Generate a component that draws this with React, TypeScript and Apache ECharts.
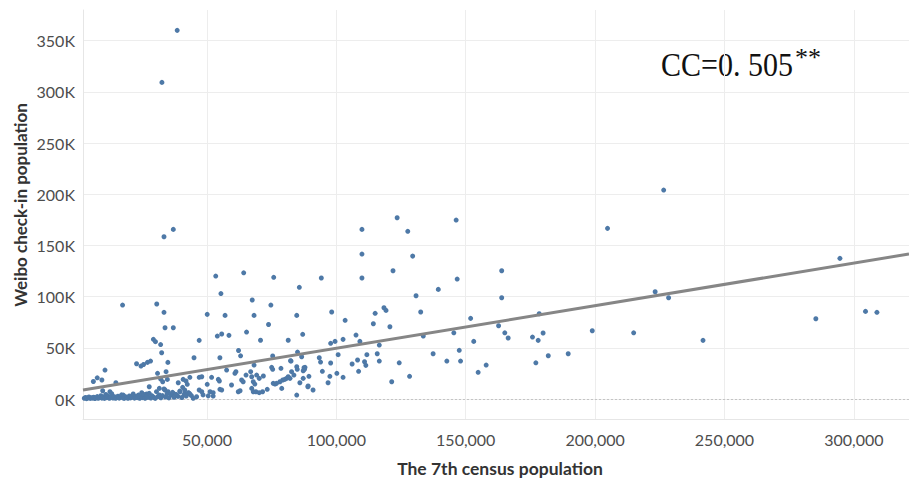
import { useEffect, useRef } from "react";
import * as echarts from "echarts";

// Values in thousands: [7th census population, Weibo check-in population]
const UNIT = 1000;

const scatteredPoints: [number, number][] = [
  [38.5, 360.1], [32.6, 309.3], [33.4, 158.5], [37.0, 165.7], [17.4, 91.8], [30.6, 92.8], [33.4, 84.7],
  [33.8, 69.6], [37.0, 69.6], [29.3, 58.3], [30.1, 56.0], [32.1, 53.2], [32.5, 45.2], [34.9, 35.8],
  [22.8, 34.5], [24.5, 32.2], [25.5, 33.7], [27.0, 35.8], [28.2, 37.1], [10.6, 28.3], [6.1, 17.1],
  [7.6, 20.7], [9.4, 18.6], [14.8, 15.9], [30.9, 25.1], [32.1, 19.5], [32.9, 16.9], [34.2, 26.7],
  [34.7, 19.2], [45.0, 40.3], [47.0, 57.3], [50.1, 82.7], [53.4, 120.1], [55.4, 103.0], [57.0, 81.7],
  [54.0, 61.5], [55.7, 63.5], [58.5, 62.2], [55.0, 40.3], [64.2, 123.3], [67.5, 96.7], [68.2, 81.7],
  [65.3, 65.4], [70.7, 57.4], [73.8, 72.8], [74.7, 91.8], [75.8, 118.9], [85.7, 109.1], [84.7, 81.7],
  [87.0, 63.2], [81.4, 57.4], [62.2, 47.4], [63.0, 42.2], [75.4, 42.0], [85.0, 45.9], [86.6, 41.3],
  [82.5, 37.1], [47.0, 21.2], [48.0, 21.8], [51.8, 21.2], [54.4, 19.2], [54.8, 17.6], [50.1, 14.4],
  [55.0, 9.5], [38.9, 15.9], [40.8, 19.2], [41.9, 17.6], [42.4, 14.4], [43.4, 21.2], [40.6, 11.4],
  [41.4, 8.8], [47.0, 8.8], [48.0, 7.1], [51.2, 7.1], [52.4, 6.2], [42.8, 6.2], [43.4, 4.9],
  [44.7, 0.7], [27.7, 12.0], [9.7, 8.1], [57.6, 28.3], [61.2, 26.7], [60.8, 25.1], [68.2, 33.2],
  [75.0, 31.0], [75.4, 29.0], [78.6, 30.0], [82.3, 37.4], [84.7, 31.5], [84.9, 29.0], [87.9, 31.0],
  [65.1, 23.4], [66.9, 26.7], [67.3, 21.8], [69.2, 23.4], [70.2, 20.2], [71.8, 22.5], [82.7, 26.7],
  [83.6, 23.4], [87.2, 20.2], [63.4, 18.6], [64.0, 16.9], [67.9, 16.9], [68.5, 14.6], [75.6, 15.3],
  [76.3, 14.6], [76.9, 15.3], [78.2, 16.9], [79.3, 18.6], [80.1, 19.2], [80.8, 20.2], [81.4, 21.8],
  [82.1, 20.2], [85.9, 15.9], [89.1, 12.7], [59.5, 13.7], [55.7, 8.8], [67.3, 10.4], [67.9, 7.1],
  [68.9, 7.1], [70.2, 6.2], [71.5, 7.1], [62.1, 7.1], [62.8, 8.1], [73.3, 9.5], [78.9, 10.4],
  [84.7, 3.9], [52.4, 2.9],
];

const midRightPoints: [number, number][] = [
  [123.5, 177.1], [109.9, 165.7], [127.6, 163.8], [146.3, 174.8], [109.9, 141.6], [129.5, 139.6],
  [121.9, 125.3], [109.9, 118.2], [94.2, 118.2], [146.7, 117.2], [163.9, 125.3], [139.4, 107.1],
  [130.8, 100.9], [163.9, 98.9], [98.2, 85.0], [118.4, 89.2], [119.2, 86.6], [115.0, 83.7],
  [132.6, 85.0], [103.4, 76.9], [114.3, 73.5], [120.7, 70.6], [151.9, 78.8], [162.7, 71.6],
  [178.4, 83.3], [107.6, 62.5], [109.1, 56.3], [102.6, 58.3], [97.8, 54.4], [99.5, 56.3],
  [116.6, 52.7], [133.6, 61.5], [145.4, 64.7], [165.1, 64.7], [166.4, 59.6], [153.1, 56.3],
  [175.8, 60.5], [178.0, 57.3], [179.9, 64.5], [198.9, 66.7], [93.4, 40.3], [93.9, 36.1],
  [97.8, 35.2], [100.7, 43.3], [111.8, 43.3], [115.8, 44.2], [108.2, 38.1], [106.1, 34.2],
  [110.9, 36.4], [111.4, 32.9], [116.6, 37.1], [124.3, 35.4], [137.4, 44.2], [142.7, 37.1],
  [147.5, 47.6], [148.0, 37.1], [157.9, 33.2], [154.8, 26.1], [177.1, 35.4], [181.9, 42.3],
  [189.6, 44.2], [87.5, 30.6], [87.7, 29.0], [87.2, 27.6], [89.4, 22.2], [94.6, 27.1], [97.5, 22.2],
  [100.2, 25.1], [102.6, 21.2], [108.6, 27.1], [96.8, 15.9], [89.0, 12.0], [91.0, 8.8],
  [121.4, 16.9], [128.3, 22.2], [226.5, 204.1], [204.8, 166.7], [294.6, 137.4], [223.2, 104.8],
  [228.4, 98.9], [214.9, 64.7], [241.7, 57.3], [285.3, 78.4], [304.5, 85.6], [308.9, 84.7],
];

const lowBandPoints: [number, number][] = [
  [12.5, 7.1], [13.3, 3.9], [17.7, 3.9], [23.5, 3.9], [24.8, 6.2], [26.7, 4.9], [28.6, 2.9],
  [31.6, 10.4], [33.8, 8.8], [35.0, 7.1], [37.0, 5.6], [38.3, 3.9], [39.6, 7.1], [41.5, 5.6],
  [2.6, 0.8], [3.1, 1.5], [3.5, 0.4], [4.0, 1.1], [4.4, 2.0], [4.9, 0.6], [5.3, 1.3], [5.8, 0.9],
  [6.2, 1.8], [6.7, 0.5], [7.1, 1.2], [7.6, 2.4], [8.0, 0.7], [8.5, 1.5], [9.0, 3.2], [9.4, 0.9],
  [9.9, 1.9], [10.4, 0.6], [10.9, 4.5], [11.3, 1.3], [11.8, 2.6], [12.3, 0.8], [12.8, 1.7],
  [13.2, 5.2], [13.7, 1.0], [14.2, 2.2], [14.7, 0.7], [15.1, 1.5], [15.6, 2.8], [16.1, 0.9],
  [16.6, 1.9], [17.0, 4.1], [17.5, 1.2], [18.0, 0.6], [18.5, 2.3], [19.0, 1.4], [19.5, 0.8],
  [20.0, 3.0], [20.5, 1.1], [21.0, 1.9], [21.5, 5.0], [22.0, 0.9], [22.5, 2.5], [23.0, 1.3],
  [23.5, 3.6], [24.0, 0.7], [24.5, 2.1], [25.0, 1.4], [25.6, 4.4], [26.1, 0.8], [26.6, 2.7],
  [27.2, 1.6], [27.7, 5.6], [28.3, 1.0], [28.8, 3.1], [29.4, 1.8], [30.0, 0.6], [30.5, 7.2],
  [31.0, 2.3], [31.6, 4.0], [32.2, 1.2], [32.8, 3.4], [33.4, 9.8], [34.0, 2.0], [34.6, 5.3],
  [35.3, 1.1], [36.0, 3.8], [36.7, 6.5], [37.3, 1.7], [38.0, 4.6], [38.8, 2.6], [39.5, 7.8],
  [40.3, 1.5], [41.2, 4.2], [42.0, 2.9], [43.0, 5.8], [44.0, 3.3], [46.0, 2.2], [48.5, 4.0],
  [50.5, 3.1],
];

// Linear trend (thousands)
const trendIntercept = 8.0;
const trendSlope = 0.416;

const xRange = [2.1, 321.3];
const yRange = [-19.5, 380];

const xAxisTitle = "The 7th census population";
const yAxisTitle = "Weibo check-in population";
const ccLabel = "CC=0. 505";
const ccSuperscript = "**";

export default function App() {
  const ref = useRef<HTMLDivElement>(null);

  useEffect(() => {
    if (!ref.current) return;
    const chart = echarts.init(ref.current, null, { renderer: "svg" });
    const allPoints = [...lowBandPoints, ...scatteredPoints, ...midRightPoints].map(
      ([x, y]) => [x * UNIT, y * UNIT]
    );
    const xMin = xRange[0] * UNIT;
    const xMax = xRange[1] * UNIT;
    const trendData = [xRange[0], xRange[1]].map((x) => [
      x * UNIT,
      (trendIntercept + trendSlope * x) * UNIT,
    ]);
    const gridColor = "#ededed";
    const labelFont = "Lato, 'Open Sans', sans-serif";
    const serifFont = "'Liberation Serif', 'DejaVu Serif', serif";

    chart.setOption({
      animation: false,
      backgroundColor: "#ffffff",
      grid: { left: 83, right: 0, top: 10, bottom: 59, containLabel: false },
      xAxis: {
        type: "value",
        min: xMin,
        max: xMax,
        splitNumber: 6,
        axisLine: { show: true, onZero: false, lineStyle: { color: "#e6e6e6", width: 1 } },
        axisTick: { show: false },
        axisLabel: {
          formatter: (v: number) => v.toLocaleString("en-US"),
          showMinLabel: false,
          showMaxLabel: false,
          color: "#4d4d4d",
          fontSize: 16,
          fontFamily: labelFont,
          margin: 12,
        },
        splitLine: {
          show: true,
          showMinLine: false,
          showMaxLine: false,
          lineStyle: { color: gridColor, width: 1 },
        },
      },
      yAxis: {
        type: "value",
        min: yRange[0] * UNIT,
        max: yRange[1] * UNIT,
        splitNumber: 8,
        axisLine: { show: true, onZero: false, lineStyle: { color: "#e6e6e6", width: 1 } },
        axisTick: { show: false },
        axisLabel: {
          formatter: (v: number) => `${Math.round(v / UNIT)}K`,
          showMinLabel: false,
          showMaxLabel: false,
          color: "#4d4d4d",
          fontSize: 16,
          fontFamily: labelFont,
          margin: 8,
        },
        splitLine: {
          show: true,
          showMinLine: false,
          showMaxLine: false,
          lineStyle: { color: gridColor, width: 1 },
        },
      },
      series: [
        {
          type: "scatter",
          data: allPoints,
          symbolSize: 5,
          itemStyle: { color: "#4e79a7", opacity: 1 },
          z: 2,
          markLine: {
            silent: true,
            symbol: "none",
            label: { show: false },
            lineStyle: { color: "#c4c4c4", type: [2, 2], width: 1 },
            data: [{ yAxis: 0 }],
            z: 1,
          },
        },
        {
          type: "line",
          data: trendData,
          symbol: "none",
          lineStyle: { color: "#868686", width: 3 },
          z: 3,
        },
      ],
      graphic: [
        {
          type: "text",
          x: 20,
          y: 205,
          rotation: Math.PI / 2,
          style: {
            text: yAxisTitle,
            fontSize: 17,
            fontWeight: "bold",
            fontFamily: labelFont,
            fill: "#333",
            align: "center",
            verticalAlign: "middle",
          },
        },
        {
          type: "text",
          x: 500,
          y: 468,
          style: {
            text: xAxisTitle,
            fontSize: 17.5,
            fontWeight: "bold",
            fontFamily: labelFont,
            fill: "#333",
            align: "center",
            verticalAlign: "middle",
          },
        },
        {
          type: "text",
          x: 661,
          y: 65,
          scaleY: 1.12,
          style: {
            text: ccLabel,
            fontSize: 30,
            fontFamily: serifFont,
            fill: "#111",
            align: "left",
            verticalAlign: "middle",
          },
        },
        {
          type: "text",
          x: 795,
          y: 57,
          style: {
            text: ccSuperscript,
            fontSize: 26,
            fontFamily: serifFont,
            fill: "#111",
            align: "left",
            verticalAlign: "middle",
          },
        },
      ],
    });

    return () => chart.dispose();
  }, []);

  return (
    <div
      ref={ref}
      style={{ position: "fixed", left: 0, top: 0, width: 909, height: 478, background: "#fff" }}
    />
  );
}
